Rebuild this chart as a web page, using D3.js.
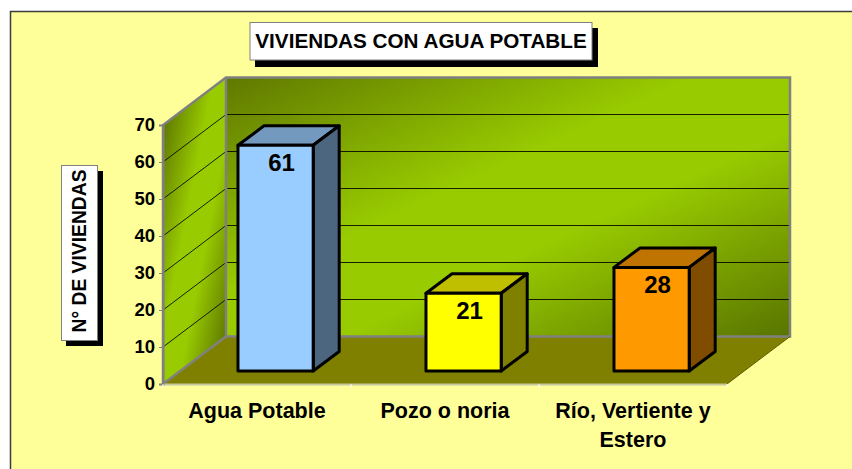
<!DOCTYPE html>
<html><head><meta charset="utf-8">
<script src="https://cdn.jsdelivr.net/npm/d3@7/dist/d3.min.js"></script>
<style>html,body{margin:0;padding:0;background:#fff}svg{display:block}text{font-family:"Liberation Sans",Arial,sans-serif;font-weight:bold;fill:#000}</style>
</head><body><svg id="c" width="852" height="469"></svg>
<script>
const categories = ["Agua Potable", "Pozo o noria", "Río, Vertiente y|Estero"];
const values = [61, 21, 28];
const faceColors = ["#99ccff", "#ffff00", "#ff9900"];
const topColors = ["#7399bf", "#bfbf00", "#bf7300"];
const sideColors = ["#4d667f", "#7f7f00", "#7f4c00"];
const yTicks = [0, 10, 20, 30, 40, 50, 60, 70];

const svg = d3.select("#c");
const dx = 63, dy = -47.5;
const x = d3.scaleBand().domain(categories).range([163, 727]).paddingInner(0.6).paddingOuter(0.3);
const y = d3.scaleLinear().domain([0, 70]).range([384, 125]);
const path = pts => "M" + pts.map(p => p.join(",")).join("L") + "Z";

const defs = svg.append("defs");
function grad(id, x1, y1, x2, y2, stops) {
  const g = defs.append("linearGradient").attr("id", id).attr("gradientUnits", "userSpaceOnUse")
    .attr("x1", x1).attr("y1", y1).attr("x2", x2).attr("y2", y2);
  stops.forEach(s => g.append("stop").attr("offset", s[0]).attr("stop-color", s[1]));
}
grad("back", 408, -8, 606, 422, [[0, "#5f7800"], [0.42, "#99cc00"], [0.6, "#99cc00"], [1, "#587400"]]);
grad("side", 144, 221, 246, 241, [[0, "#5f7800"], [0.4, "#99cc00"], [0.62, "#99cc00"], [1, "#5f7800"]]);

svg.append("rect").attr("x", 10.5).attr("y", 11.5).attr("width", 860).attr("height", 480)
  .attr("fill", "#ffff99").attr("stroke", "#3c3c3c").attr("stroke-width", 1.5);

const x0 = x.range()[0], x1 = x.range()[1], y0 = y(0), yT = y(70);
svg.append("path").attr("d", path([[x0,y0],[x0+dx,y0+dy],[x1+dx,y0+dy],[x1,y0]])).attr("fill", "#808000");
svg.append("path").attr("d", path([[x0,y0],[x0,yT],[x0+dx,yT+dy],[x0+dx,y0+dy]])).attr("fill", "url(#side)");
svg.append("rect").attr("x", x0+dx).attr("y", yT+dy).attr("width", x1-x0).attr("height", y0-yT).attr("fill", "url(#back)");

const grid = yTicks.filter(t => t > 0 && t < 70);
svg.append("g").selectAll("path").data(grid).join("path")
  .attr("d", t => `M${x0},${y(t)}L${x0+dx},${y(t)+dy}L${x1+dx},${y(t)+dy}`)
  .attr("fill", "none").attr("stroke", "#000").attr("stroke-opacity", 0.85).attr("stroke-width", 1);

svg.append("path").attr("d", `M${x0},${y0}L${x0},${yT}L${x0+dx},${yT+dy}L${x1+dx},${yT+dy}L${x1+dx},${y0+dy}L${x0+dx},${y0+dy}L${x0},${y0}M${x0+dx},${yT+dy}L${x0+dx},${y0+dy}`)
  .attr("fill", "none").attr("stroke", "#808080").attr("stroke-width", 2.5);
svg.append("path").attr("d", `M${x1+dx},${y0+dy}L${x1},${y0}`).attr("stroke", "#5a5a00").attr("stroke-width", 1);
svg.append("path").attr("d", `M${x0},${y0+0.5}L${x1},${y0+0.5}`).attr("stroke", "#c8c8a0").attr("stroke-width", 2);

const axisY = d3.axisLeft(y).tickValues(yTicks).tickSize(4).tickPadding(4);
const gy = svg.append("g").attr("transform", `translate(${x0},0)`).call(axisY);
gy.select(".domain").attr("stroke", "#808080").attr("stroke-width", 2);
gy.selectAll(".tick line").attr("stroke", "#808080");
gy.selectAll("text").style("font-size", "18.5px").style("font-family", '"Liberation Sans",Arial,sans-serif').style("font-weight", "bold").attr("fill", "#000");

svg.append("g").selectAll("line").data(d3.range(0, 4)).join("line")
  .attr("x1", i => x0 + i * x.step()).attr("x2", i => x0 + i * x.step())
  .attr("y1", y0).attr("y2", y0 + 4).attr("stroke", "#fff").attr("stroke-width", 1);

const ox = 0.295 * dx, oy = 0.2737 * dy, bx = 0.413 * dx, by = 0.41 * dy;
const bars = svg.append("g").selectAll("g").data(categories).join("g");
const bar = (c, i) => {
  const l = x(c) + ox, r = l + x.bandwidth(), b = y(0) + oy, t = y(values[i]) + oy;
  return {l, r, b, t};
};
const stroke = s => s.attr("stroke", "#000").attr("stroke-width", 3).attr("stroke-linejoin", "round");
stroke(bars.append("path").attr("d", (c, i) => { const k = bar(c, i);
  return path([[k.l,k.t],[k.l+bx,k.t+by],[k.r+bx,k.t+by],[k.r,k.t]]); }).attr("fill", (c, i) => topColors[i]));
stroke(bars.append("path").attr("d", (c, i) => { const k = bar(c, i);
  return path([[k.r,k.t],[k.r+bx,k.t+by],[k.r+bx,k.b+by],[k.r,k.b]]); }).attr("fill", (c, i) => sideColors[i]));
stroke(bars.append("rect").attr("x", (c, i) => bar(c, i).l).attr("y", (c, i) => bar(c, i).t)
  .attr("width", x.bandwidth()).attr("height", (c, i) => bar(c, i).b - bar(c, i).t).attr("fill", (c, i) => faceColors[i]));
bars.append("text").attr("x", (c, i) => (bar(c, i).l + bar(c, i).r) / 2 + 6).attr("y", (c, i) => bar(c, i).t + 26)
  .attr("text-anchor", "middle").style("font-size", "24px").text((c, i) => values[i]);

const lab = svg.append("g").selectAll("text").data(categories).join("text")
  .attr("text-anchor", "middle").style("font-size", "21.5px")
  .attr("x", c => x(c) + x.bandwidth() / 2).attr("y", 418);
lab.selectAll("tspan").data(c => c.split("|")).join("tspan")
  .attr("x", function () { return d3.select(this.parentNode).attr("x"); })
  .attr("dy", (d, i) => i ? 29 : 0).text(d => d);

svg.append("rect").attr("x", 255).attr("y", 28).attr("width", 343).attr("height", 39).attr("fill", "#000");
svg.append("rect").attr("x", 250).attr("y", 22.5).attr("width", 342).attr("height", 37.5).attr("fill", "#fff").attr("stroke", "#808080");
svg.append("text").attr("x", 421).attr("y", 48).attr("text-anchor", "middle").style("font-size", "20.7px").text("VIVIENDAS CON AGUA POTABLE");

svg.append("rect").attr("x", 66).attr("y", 171).attr("width", 37).attr("height", 175).attr("fill", "#000");
svg.append("rect").attr("x", 61.5).attr("y", 165.5).attr("width", 36).attr("height", 175).attr("fill", "#fff").attr("stroke", "#808080");
svg.append("text").attr("transform", "translate(85.5,251) rotate(-90)").attr("text-anchor", "middle").style("font-size", "19.3px").text("N° DE VIVIENDAS");
</script></body></html>
